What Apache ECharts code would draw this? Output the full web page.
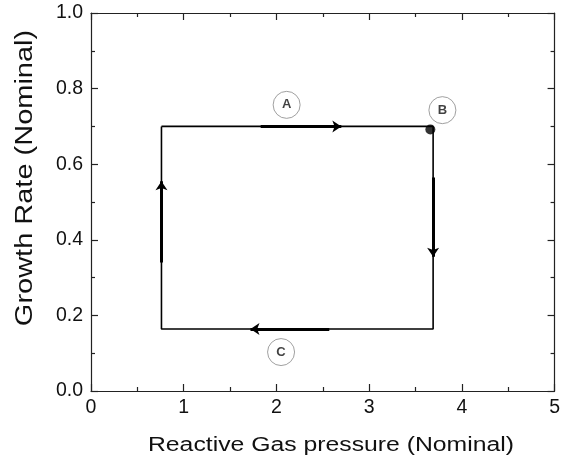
<!DOCTYPE html>
<html><head><meta charset="utf-8">
<script src="https://cdn.jsdelivr.net/npm/echarts@6/dist/echarts.min.js"></script>
<style>html,body{margin:0;padding:0;background:#fff}#c{width:563px;height:459px}</style>
</head><body><div id="c"></div>
<script>
// Rectangle loop path (x: reactive gas pressure, y: growth rate)
const loopX = [0.76, 3.69, 3.69, 0.76, 0.76];
const loopY = [0.70, 0.70, 0.164, 0.164, 0.70];
// Arrow segments [x0, y0, x1, y1]
const arrowSegs = [
  [1.83, 0.70, 2.70, 0.70],
  [3.69, 0.565, 3.69, 0.355],
  [2.57, 0.164, 1.72, 0.164],
  [0.76, 0.34, 0.76, 0.555]
];
// Point B marker
const pointB = [3.66, 0.692];
// Labelled circles
const circleNames = ['A', 'B', 'C'];
const circleX = [2.11, 3.79, 2.05];
const circleY = [0.757, 0.743, 0.103];
const xTicks = [0, 1, 2, 3, 4, 5];
const yTicks = [0.0, 0.2, 0.4, 0.6, 0.8, 1.0];
const xTitle = 'Reactive Gas pressure (Nominal)';
const yTitle = 'Growth Rate (Nominal)';

const chart = echarts.init(document.getElementById('c'));
const axisCol = '#222';
const font = 'Liberation Sans, Arial, sans-serif';
const baseAxis = {
  axisLine: {show: true, onZero: false, lineStyle: {color: axisCol, width: 1.2}},
  axisTick: {show: true, inside: true, length: 7, lineStyle: {color: axisCol, width: 1.2}},
  minorTick: {show: true, splitNumber: 2, length: 4, lineStyle: {color: axisCol, width: 1.2}},
  splitLine: {show: false}
};
chart.setOption({
  animation: false,
  grid: {left: 91, right: 6, top: 13, bottom: 68},
  xAxis: [
    Object.assign({}, baseAxis, {type: 'value', min: 0, max: 5, interval: 1, position: 'bottom',
      axisLabel: {fontFamily: font, fontSize: 19.5, color: '#111', margin: 7,
        formatter: v => xTicks.includes(v) ? String(v) : ''}}),
    Object.assign({}, baseAxis, {type: 'value', min: 0, max: 5, interval: 1, position: 'top',
      axisLabel: {show: false}})
  ],
  yAxis: [
    Object.assign({}, baseAxis, {type: 'value', min: 0, max: 1, interval: 0.2, position: 'left',
      axisLabel: {fontFamily: font, fontSize: 19.5, color: '#111', margin: 8,
        formatter: v => v.toFixed(1)}}),
    Object.assign({}, baseAxis, {type: 'value', min: 0, max: 1, interval: 0.2, position: 'right',
      axisLabel: {show: false}})
  ],
  graphic: [
    {type: 'text', x: 331, y: 446, scaleX: 1.27,
      style: {text: xTitle, font: '19.5px ' + font, fill: '#111', textAlign: 'center', textVerticalAlign: 'middle'}},
    {type: 'text', x: 26, y: 178, rotation: Math.PI / 2, scaleX: 1.26,
      style: {text: yTitle, font: '23px ' + font, fill: '#111', textAlign: 'center', textVerticalAlign: 'middle'}}
  ],
  series: [
    {type: 'line', data: loopX.map((x, i) => [x, loopY[i]]), showSymbol: false, symbol: 'none',
      lineStyle: {color: '#000', width: 1.6}, z: 2},
    {type: 'lines', coordinateSystem: 'cartesian2d', polyline: false,
      data: arrowSegs.map(s => ({coords: [[s[0], s[1]], [s[2], s[3]]]})),
      symbol: ['none', 'arrow'], symbolSize: 9,
      lineStyle: {color: '#000', width: 3, opacity: 1}, z: 3},
    {type: 'scatter', data: [pointB], symbol: 'circle', symbolSize: 10,
      itemStyle: {color: '#000'}, z: 4},
    {type: 'scatter', data: circleNames.map((n, i) => ({value: [circleX[i], circleY[i]], name: n})),
      symbol: 'circle', symbolSize: 27,
      itemStyle: {color: '#fff', borderColor: '#888', borderWidth: 1},
      label: {show: true, position: 'inside', formatter: p => p.name,
        fontFamily: font, fontSize: 13, fontWeight: 'bold', color: '#111'}, z: 5}
  ]
});
</script></body></html>
